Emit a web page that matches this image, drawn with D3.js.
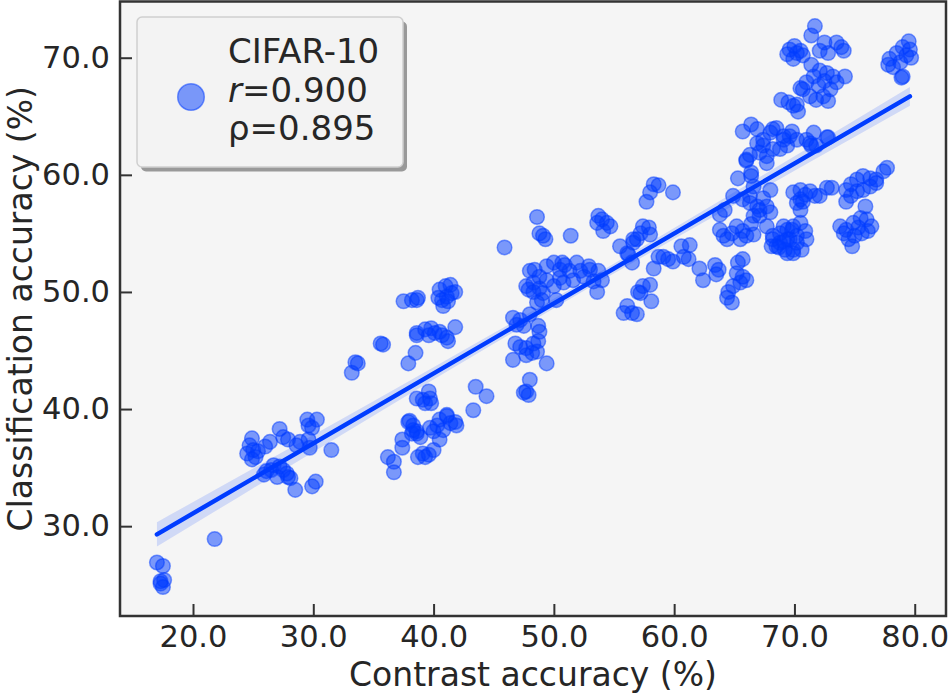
<!DOCTYPE html>
<html>
<head>
<meta charset="utf-8">
<script src="https://cdn.jsdelivr.net/npm/d3@7"></script>
<style>
  body { margin: 0; background: #fff; }
  svg { display: block; font-family: "DejaVu Sans", sans-serif; }
</style>
</head>
<body>
<div id="chart"></div>
<script>
// contrast accuracy (x) and classification accuracy (y)
var contrast = [
  17.0,17.5,17.3,17.6,17.5,17.3,21.8,24.9,24.7,24.5,25.2,25.0,25.4,24.9,26.0,26.4,27.2,27.5,27.9,29.5,
  29.6,30.3,29.9,28.9,28.6,29.6,29.7,31.5,26.1,25.9,26.5,27.0,27.5,27.9,28.1,28.5,29.9,30.2,26.7,27.2,
  27.8,33.2,33.5,33.7,35.8,35.6,37.9,38.5,38.6,36.2,36.7,36.7,37.4,37.4,38.0,38.3,38.6,38.6,38.7,37.9,
  38.3,38.2,38.6,38.9,39.1,39.6,39.7,39.3,39.8,39.1,39.6,40.0,39.3,39.7,40.3,40.5,41.1,41.4,41.8,41.9,
  40.8,40.5,41.1,40.0,43.5,43.3,44.4,37.5,38.2,38.6,38.7,40.5,41.0,41.4,41.8,41.1,40.7,40.8,40.4,41.5,
  41.2,38.6,39.3,39.8,40.1,40.7,41.1,41.8,41.2,39.6,40.5,48.6,48.8,49.3,49.1,51.4,45.9,53.7,54.4,54.1,
  54.7,54.0,53.6,48.0,48.3,48.8,49.4,50.0,50.5,50.9,51.9,52.2,53.0,53.7,53.3,53.6,51.6,50.8,50.0,49.1,
  48.6,50.2,49.0,47.7,48.3,49.4,51.3,52.5,50.5,48.8,50.7,52.9,54.0,48.4,47.9,46.6,47.2,46.9,47.5,48.7,
  48.8,48.0,46.8,47.2,47.7,48.3,48.6,48.2,47.7,49.4,46.6,48.7,48.0,47.7,47.5,47.9,56.1,56.5,56.9,55.8,
  55.5,56.1,57.0,56.6,58.3,58.7,58.0,57.7,59.9,57.4,57.9,57.2,56.9,58.0,56.6,56.2,56.5,58.3,58.7,59.1,
  59.5,59.9,60.6,61.3,61.2,60.8,57.4,58.0,57.2,58.1,62.1,62.4,63.4,63.7,63.5,65.3,65.7,65.2,65.7,66.0,
  65.5,64.9,64.5,64.4,64.8,63.8,64.1,64.4,64.8,65.2,65.7,66.0,65.5,66.6,66.4,63.8,64.2,64.9,65.3,66.0,
  65.7,66.4,66.6,67.4,67.7,66.9,66.3,67.1,68.0,67.7,68.2,68.8,69.4,69.1,69.8,70.2,69.9,69.4,68.5,70.5,
  66.3,67.1,68.0,66.6,66.4,65.7,66.4,66.9,67.4,68.0,68.5,69.1,69.4,68.2,67.7,67.1,66.9,66.3,66.0,67.7,
  68.8,69.8,70.2,69.6,68.2,67.4,69.1,71.0,71.6,71.4,72.7,71.3,71.8,72.8,71.7,71.4,69.6,70.0,70.5,70.7,
  69.9,69.4,70.2,72.1,72.5,73.5,73.9,74.1,72.8,71.4,71.0,71.6,72.1,72.7,73.2,73.5,73.0,72.4,71.8,71.3,
  70.7,70.5,74.2,72.8,72.0,72.5,68.9,69.5,69.9,70.3,70.2,77.9,78.5,79.0,79.5,79.6,79.7,78.8,79.0,77.8,
  78.2,79.3,78.9,68.2,68.8,69.4,69.9,70.5,70.9,71.0,70.6,69.9,69.2,68.7,68.1,69.6,70.2,69.1,69.9,70.5,
  70.9,71.3,70.7,70.2,70.5,71.7,72.1,72.7,73.1,74.3,74.7,75.2,75.7,76.3,76.8,77.4,77.7,75.2,74.7,74.3,
  75.7,76.3,76.8,75.9,73.8,74.3,74.9,75.5,76.0,76.4,76.1,75.6,75.0,74.5,74.8,74.1,75.3
];
var classification = [
  26.9,26.6,25.3,25.4,24.8,25.1,28.9,37.5,36.9,36.2,35.9,36.5,36.4,35.7,36.8,37.2,38.3,37.6,37.4,39.1,
  38.6,39.1,38.4,37.2,36.9,37.4,36.7,36.5,34.7,34.4,34.8,34.2,34.8,34.2,34.1,33.1,33.4,33.8,35.2,35.1,
  34.5,43.1,44.0,43.9,45.5,45.6,43.9,44.8,46.3,35.9,35.5,34.6,37.4,36.7,39.0,38.2,37.9,40.9,35.9,38.9,
  38.6,37.9,38.1,37.6,40.8,41.5,40.9,40.5,40.5,36.2,36.1,36.5,35.9,38.4,38.6,39.1,39.4,38.8,38.9,38.6,
  38.2,37.4,39.5,38.1,41.9,39.9,41.1,49.2,49.3,49.3,49.5,50.2,50.5,50.6,50.0,49.6,49.3,48.8,49.5,49.9,
  49.2,46.5,46.8,46.9,46.5,46.3,46.1,47.0,45.8,46.3,46.6,56.4,55.0,54.5,54.8,54.8,53.8,56.5,55.9,55.2,
  55.6,56.2,55.9,51.8,50.8,51.3,52.2,52.5,51.9,52.3,52.5,51.8,51.9,51.8,50.9,50.0,51.0,50.8,50.5,49.9,
  49.1,49.3,49.3,50.5,50.0,51.0,51.8,51.3,51.2,50.3,52.5,52.2,51.0,51.9,50.2,47.8,47.6,47.2,47.1,47.1,
  46.6,48.1,45.6,45.3,45.2,45.6,44.9,44.8,44.6,43.9,44.2,45.8,42.5,41.5,41.4,41.2,48.8,48.2,48.1,48.2,
  53.9,53.3,50.0,54.5,59.2,59.1,58.5,57.7,58.5,55.6,55.5,55.0,54.5,54.9,54.2,53.2,52.5,52.0,53.0,53.0,
  52.8,52.6,53.9,54.0,52.8,53.0,50.5,50.6,49.9,49.2,52.0,51.0,52.3,51.9,51.5,52.5,52.8,51.6,51.3,51.0,
  50.8,50.5,50.0,49.5,49.1,55.3,54.8,54.5,55.0,55.6,55.2,54.8,54.5,54.9,55.8,56.6,57.0,58.2,59.7,61.3,
  57.9,59.9,59.0,58.0,57.3,57.3,57.6,56.5,56.8,55.6,54.8,54.2,54.5,55.6,55.3,54.8,53.6,53.3,53.9,57.9,
  58.2,57.0,58.7,56.5,60.2,63.7,64.3,63.9,63.0,63.6,64.0,63.3,62.5,62.2,61.6,61.9,62.7,61.7,61.2,61.0,
  62.2,63.7,63.0,63.3,63.9,62.5,63.0,63.0,63.6,62.5,63.2,62.7,62.5,63.2,72.7,71.9,70.7,71.0,70.6,70.2,
  69.9,70.3,70.4,70.6,71.3,71.3,70.9,70.6,70.4,69.4,67.9,68.4,68.9,68.7,68.4,67.9,67.3,66.7,66.4,66.7,
  67.3,67.4,68.4,66.3,67.6,68.0,66.4,66.2,65.9,65.4,66.0,69.9,70.4,70.9,71.4,70.7,70.0,69.6,68.4,69.4,
  69.2,70.2,68.3,54.5,55.0,55.3,55.6,55.9,55.2,54.5,53.6,53.3,53.6,53.8,53.9,54.5,54.2,54.3,58.5,58.7,
  58.3,58.6,57.7,57.6,57.0,58.2,58.2,58.9,58.9,58.7,59.2,59.6,59.9,59.7,59.6,60.3,60.6,58.6,58.2,57.7,
  58.7,59.0,59.3,57.3,55.6,55.3,55.9,56.3,56.2,55.6,55.2,55.0,54.8,54.5,53.9,55.0,55.5
];

// fitted regression line end points and its confidence band half widths
var fitX = [17.0, 79.6];
var fitY = [29.3, 66.7];
var ciX = [17, 25, 35, 45, 52, 60, 70, 79.6];
var ciHalf = [1.04, 0.84, 0.62, 0.46, 0.41, 0.47, 0.62, 0.8];

var xTicks = [20, 30, 40, 50, 60, 70, 80];
var yTicks = [30, 40, 50, 60, 70];
var legendLines = ["CIFAR-10", "=0.900", "ρ=0.895"];

var blue = "#003cff";
var width = 950, height = 695;
var plot = {left: 120, right: 946, top: 1.5, bottom: 616};

var svg = d3.select("#chart")
    .append("svg")
    .attr("width", width)
    .attr("height", height);

var x = d3.scaleLinear()
    .domain([13.93, 82.6])
    .range([plot.left, plot.right]);

var y = d3.scaleLinear()
    .domain([22.33, 74.8])
    .range([plot.bottom, plot.top]);

svg.append("rect")
    .attr("x", plot.left)
    .attr("y", plot.top)
    .attr("width", plot.right - plot.left)
    .attr("height", plot.bottom - plot.top)
    .attr("fill", "#f5f5f5");

svg.append("clipPath")
    .attr("id", "clip")
    .append("rect")
    .attr("x", plot.left)
    .attr("y", plot.top)
    .attr("width", plot.right - plot.left)
    .attr("height", plot.bottom - plot.top);

var inner = svg.append("g").attr("clip-path", "url(#clip)");

var points = contrast.map(function(d, i) { return [d, classification[i]]; });

inner.append("g")
    .selectAll("circle")
    .data(points)
    .enter()
    .append("circle")
    .attr("cx", function(d) { return x(d[0]); })
    .attr("cy", function(d) { return y(d[1]); })
    .attr("r", 7.3)
    .attr("fill", blue)
    .attr("fill-opacity", 0.5)
    .attr("stroke", blue)
    .attr("stroke-opacity", 0.5)
    .attr("stroke-width", 1.5);

var fit = d3.scaleLinear().domain(fitX).range(fitY);

var band = d3.area()
    .x(function(d, i) { return x(ciX[i]); })
    .y0(function(d, i) { return y(fit(ciX[i]) - d); })
    .y1(function(d, i) { return y(fit(ciX[i]) + d); })
    .curve(d3.curveMonotoneX);

inner.append("path")
    .datum(ciHalf)
    .attr("d", band)
    .attr("fill", blue)
    .attr("fill-opacity", 0.15);

inner.append("line")
    .attr("x1", x(fitX[0]))
    .attr("y1", y(fitY[0]))
    .attr("x2", x(fitX[1]))
    .attr("y2", y(fitY[1]))
    .attr("stroke", blue)
    .attr("stroke-width", 4.5)
    .attr("stroke-linecap", "round");

// axes, ticks pointing inwards
var fmt = d3.format(".1f");

var xAxis = svg.append("g")
    .attr("transform", "translate(0," + plot.bottom + ")")
    .call(d3.axisBottom(x).tickValues(xTicks).tickFormat(fmt)
        .tickSizeInner(-12).tickSizeOuter(0).tickPadding(9));

var yAxis = svg.append("g")
    .attr("transform", "translate(" + plot.left + ",0)")
    .call(d3.axisLeft(y).tickValues(yTicks).tickFormat(fmt)
        .tickSizeInner(-12).tickSizeOuter(0).tickPadding(10));

[xAxis, yAxis].forEach(function(a) {
    a.select(".domain").remove();
    a.selectAll("line").attr("stroke", "#333").attr("stroke-width", 2);
    a.selectAll("text")
        .attr("fill", "#262626")
        .style("font-family", "DejaVu Sans")
        .style("font-size", "30.5px");
});

svg.append("rect")
    .attr("x", plot.left)
    .attr("y", plot.top)
    .attr("width", plot.right - plot.left)
    .attr("height", plot.bottom - plot.top)
    .attr("fill", "none")
    .attr("stroke", "#333")
    .attr("stroke-width", 2.5);

svg.append("text")
    .attr("x", (plot.left + plot.right) / 2)
    .attr("y", 686)
    .attr("text-anchor", "middle")
    .attr("fill", "#262626")
    .style("font-size", "33px")
    .text("Contrast accuracy (%)");

svg.append("text")
    .attr("transform", "translate(31.5," + (plot.top + plot.bottom) / 2 + ") rotate(-90)")
    .attr("text-anchor", "middle")
    .attr("fill", "#262626")
    .style("font-size", "33px")
    .text("Classification accuracy (%)");

// legend with drop shadow
var legend = svg.append("g").attr("transform", "translate(137,17)");

legend.append("rect")
    .attr("x", 4).attr("y", 4.5)
    .attr("width", 266).attr("height", 150)
    .attr("rx", 5)
    .attr("fill", "#999");

legend.append("rect")
    .attr("width", 266).attr("height", 150)
    .attr("rx", 5)
    .attr("fill", "#f3f3f3")
    .attr("stroke", "#cfcfcf")
    .attr("stroke-width", 1.5);

legend.append("circle")
    .attr("cx", 54).attr("cy", 80)
    .attr("r", 13.3)
    .attr("fill", blue)
    .attr("fill-opacity", 0.5)
    .attr("stroke", blue)
    .attr("stroke-opacity", 0.5)
    .attr("stroke-width", 1.5);

legend.selectAll(".lbl")
    .data(legendLines)
    .enter()
    .append("text")
    .attr("class", "lbl")
    .attr("x", 91)
    .attr("y", function(d, i) { return 46 + i * 38.5; })
    .attr("fill", "#262626")
    .style("font-size", "34px")
    .each(function(d, i) {
        var t = d3.select(this);
        if (i === 1) {
            t.append("tspan").style("font-style", "italic").text("r");
        }
        t.append("tspan").text(d);
    });
</script>
</body>
</html>
